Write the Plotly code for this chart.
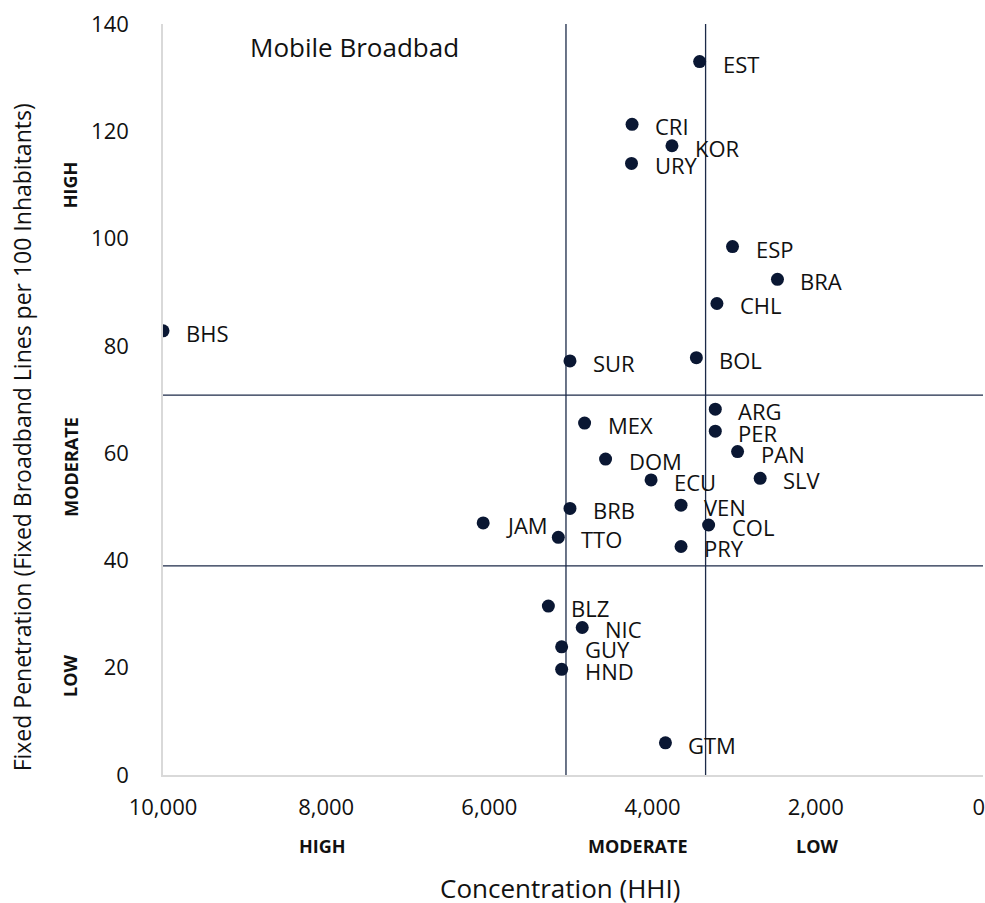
import plotly.graph_objects as go

countries = ["EST", "CRI", "KOR", "URY", "ESP", "BRA", "CHL", "BHS", "SUR", "BOL",
             "ARG", "MEX", "PER", "PAN", "DOM", "SLV", "ECU", "VEN", "BRB", "JAM",
             "COL", "TTO", "PRY", "BLZ", "NIC", "GUY", "HND", "GTM"]
hhi = [3423, 4251, 3762, 4258, 3020, 2469, 3211, 10000, 5012, 3463,
       3231, 4833, 3231, 2958, 4576, 2681, 4018, 3651, 5012, 6076,
       3313, 5155, 3651, 5277, 4862, 5114, 5114, 3842]
penetration = [133.0, 121.3, 117.3, 114.0, 98.5, 92.4, 87.9, 82.8, 77.2, 77.8,
               68.2, 65.6, 64.1, 60.3, 58.9, 55.3, 55.0, 50.3, 49.7, 47.0,
               46.6, 44.3, 42.6, 31.5, 27.5, 23.9, 19.7, 6.0]

hhi_thresholds = [5061, 3350]
pen_thresholds = [70.8, 39.0]

x_ticks = [10000, 8000, 6000, 4000, 2000, 0]
y_ticks = [0, 20, 40, 60, 80, 100, 120, 140]
x_bands = ["HIGH", "MODERATE", "LOW"]
x_band_pos = [8040, 4180, 1990]
y_bands = ["HIGH", "MODERATE", "LOW"]
y_band_pos = [110, 57.5, 18.5]

NAVY = "#0a1733"
LINE = "#1c2a48"
FONT = "Open Sans"
TXT = "#111111"

W, H = 985, 903
L, R, T, B = 163, 0, 24, 128
pw, ph = W - L - R, H - T - B


def px(xp):
    return (xp - L) / pw


def py(yp):
    return 1 - (yp - T) / ph


fig = go.Figure()
fig.add_trace(go.Scatter(
    x=hhi, y=penetration, mode="markers",
    marker=dict(size=13, color=NAVY),
    hoverinfo="text", text=countries, showlegend=False,
))

for c, xv, yv in zip(countries, hhi, penetration):
    fig.add_annotation(x=xv, y=yv, xref="x", yref="y", text=c, showarrow=False,
                       xanchor="left", yanchor="middle", xshift=21, yshift=-2,
                       font=dict(family=FONT, size=22, color=TXT))

for xv in hhi_thresholds:
    fig.add_shape(type="line", xref="x", yref="paper", x0=xv, x1=xv, y0=0, y1=1,
                  line=dict(color=LINE, width=1.3), layer="below")
for yv in pen_thresholds:
    fig.add_shape(type="line", xref="paper", yref="y", x0=0, x1=1, y0=yv, y1=yv,
                  line=dict(color=LINE, width=1.3), layer="below")

for t, xv in zip(x_bands, x_band_pos):
    fig.add_annotation(x=xv, xref="x", y=py(846), yref="paper", text="<b>%s</b>" % t,
                       xanchor="center", yanchor="middle",
                       showarrow=False, font=dict(family=FONT, size=18, color=TXT))
for t, yv in zip(y_bands, y_band_pos):
    fig.add_annotation(x=px(70), xref="paper", y=yv, yref="y", text="<b>%s</b>" % t,
                       xanchor="center", yanchor="middle",
                       textangle=-90, showarrow=False,
                       font=dict(family=FONT, size=18, color=TXT))

fig.add_annotation(text="Mobile Broadbad", x=px(248), y=py(47), xref="paper", yref="paper",
                   xanchor="left", yanchor="middle", showarrow=False,
                   font=dict(family=FONT, size=26, color=TXT))

fig.add_annotation(text="Concentration (HHI)", x=px(561), y=py(888), xref="paper", yref="paper",
                   xanchor="center", yanchor="middle",
                   showarrow=False, font=dict(family=FONT, size=26, color=TXT))
fig.add_annotation(text="Fixed Penetration (Fixed Broadband Lines per 100 Inhabitants)",
                   x=px(22), y=py(437), xref="paper", yref="paper", textangle=-90,
                   xanchor="center", yanchor="middle",
                   showarrow=False, font=dict(family=FONT, size=23, color=TXT))

fig.update_layout(
    width=W, height=H,
    margin=dict(l=L, r=R, t=T, b=B, pad=0),
    plot_bgcolor="white", paper_bgcolor="white",
    font=dict(family=FONT, size=21, color=TXT),
    xaxis=dict(range=[10000, -50], tickvals=x_ticks,
               ticktext=[f"{v:,}" for v in x_ticks],
               showgrid=False, zeroline=False, showline=True,
               linecolor="#d9d9d9", linewidth=1.5, ticks="",
               ticklabelstandoff=12, ticklabeloverflow="allow",
               tickfont=dict(size=22)),
    yaxis=dict(range=[0, 140], tickvals=y_ticks,
               showgrid=False, zeroline=False, showline=True,
               linecolor="#d9d9d9", linewidth=1.5, ticks="",
               ticklabelstandoff=28, tickfont=dict(size=22)),
)

fig.write_html("out.html", config={"displayModeBar": False},
               post_script="document.body.style.margin='0';document.body.style.overflow='hidden';")
